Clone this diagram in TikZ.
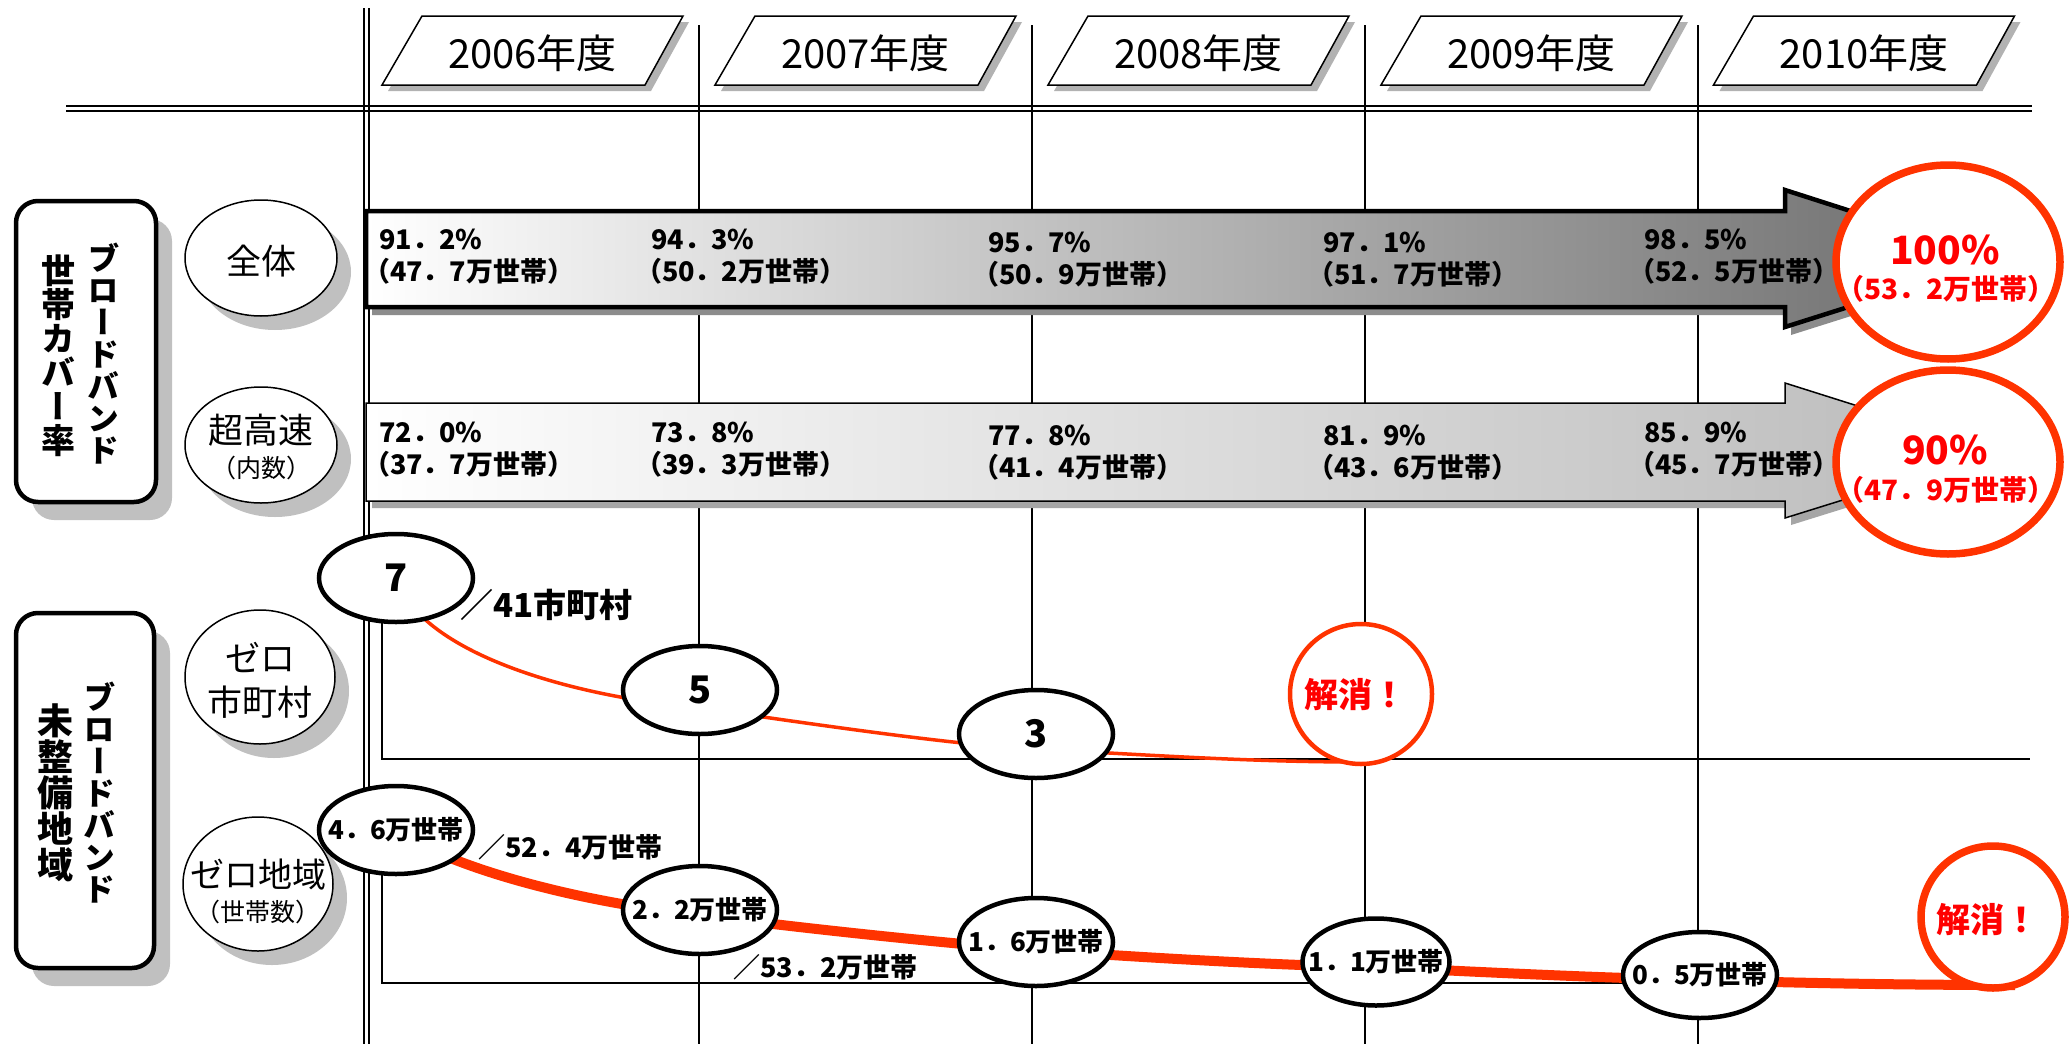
\documentclass[tikz,border=0pt]{standalone}
\usepackage{fontspec}
\setmainfont{Noto Sans CJK JP}
\newfontfamily\vjp[RawFeature=+vert]{Noto Sans CJK JP}
\usetikzlibrary{shapes.geometric}
\definecolor{rline}{RGB}{255,51,0}
\definecolor{rtext}{RGB}{255,0,0}
\definecolor{shd}{RGB}{192,192,192}
\newcommand\setfs[1]{\fontsize{#1}{#1}\selectfont\lineskiplimit=-100pt\relax}
\begin{document}
\begin{tikzpicture}[x=1pt,y=-1pt,
  colline/.style={line width=1.5},
  dbl/.style={line width=2},
  ybox/.style={draw, line width=1.5, fill=white},
  ytext/.style={font=\setfs{40}, inner sep=0},
  pct/.style={anchor=west, align=left, inner sep=0, font=\bfseries\fontsize{27}{32}\selectfont},
  lbl/.style={draw, line width=1.5, fill=white},
  lbltext/.style={inner sep=0, align=center},
  vbox/.style={draw, line width=4.5, rounded corners=22, fill=white},
  vtext/.style={align=center, inner sep=0},
  bub/.style={ellipse, draw, line width=4.5, fill=white, minimum width=154, minimum height=88, inner sep=0},
  bubtext/.style={inner sep=0, font=\bfseries\setfs{26}},
  numtext/.style={inner sep=0, font=\bfseries\setfs{38}},
  goal/.style={ellipse, draw=rline, fill=white, inner sep=0},
  redtext/.style={inner sep=0, text=rtext, align=center},
  slash/.style={anchor=west, inner sep=0, font=\bfseries\setfs{27}},
  thinred/.style={draw=rline, line width=3.5},
  thickred/.style={draw=rline, line width=10},
]
\useasboundingbox[fill=white] (0,0) rectangle (2072,1044);

% ---- grid lines ----
\foreach \x in {699,1032,1365,1698} \draw[colline] (\x,25) -- (\x,1044);
\draw[dbl] (364,8) -- (364,1044);
\draw[dbl] (369,8) -- (369,1044);
\draw[dbl] (66,106) -- (2032,106);
\draw[dbl] (66,111) -- (2032,111);
\draw[line width=2] (382,600) -- (382,759) -- (2030,759);
\draw[line width=2] (382,860) -- (382,983) -- (2015,983);

% ---- year headers ----
\foreach \cx/\yr [count=\i] in {532.5/2006,865.5/2007,1198.5/2008,1531.5/2009,1864/2010} {
  \fill[black!30] ({\cx-150.5+6},91) -- ({\cx+112.5+6},91) -- ({\cx+150.5+6},22) -- ({\cx-110.5+6},22) -- cycle;
  \draw[ybox] ({\cx-150.5},85) -- ({\cx+112.5},85) -- ({\cx+150.5},16) -- ({\cx-110.5},16) -- cycle;
  \node[ytext] (yr\i) at (\cx,53) {\yr 年度};
}

% ---- arrows ----
\fill[black!45, shift={(6,8)}] (366,211) -- (1785,211) -- (1785,190) -- (2000,259) -- (1785,327) -- (1785,307) -- (366,307) -- cycle;
\draw[line width=4.5, left color=white, right color=black!58] (366,211) -- (1785,211) -- (1785,190) -- (2000,259) -- (1785,327) -- (1785,307) -- (366,307) -- cycle;
\fill[black!35, shift={(6,7)}] (366,403) -- (1785,403) -- (1785,383) -- (2000,451) -- (1785,518) -- (1785,501) -- (366,501) -- cycle;
\draw[line width=1.5, left color=white, right color=black!27] (366,403) -- (1785,403) -- (1785,383) -- (2000,451) -- (1785,518) -- (1785,501) -- (366,501) -- cycle;

\node[pct] (a1) at (379,257) {91．2\%\\\hspace*{-.6em}（47．7万世帯）};
\node[pct] (a2) at (651,257) {94．3\%\\\hspace*{-.6em}（50．2万世帯）};
\node[pct] (a3) at (988,260) {95．7\%\\\hspace*{-.6em}（50．9万世帯）};
\node[pct] (a4) at (1323,260) {97．1\%\\\hspace*{-.6em}（51．7万世帯）};
\node[pct] (a5) at (1644,257) {98．5\%\\\hspace*{-.6em}（52．5万世帯）};
\node[pct] (h1) at (379,450) {72．0\%\\\hspace*{-.6em}（37．7万世帯）};
\node[pct] (h2) at (651,450) {73．8\%\\\hspace*{-.6em}（39．3万世帯）};
\node[pct] (h3) at (988,453) {77．8\%\\\hspace*{-.6em}（41．4万世帯）};
\node[pct] (h4) at (1323,453) {81．9\%\\\hspace*{-.6em}（43．6万世帯）};
\node[pct] (h5) at (1644,450) {85．9\%\\\hspace*{-.6em}（45．7万世帯）};

% ---- goal circles ----
\node[goal, line width=7.5, minimum width=224, minimum height=194] (c1) at (1948,262) {};
\node[goal, line width=7.5, minimum width=224, minimum height=184] (c2) at (1948,462) {};
\node[redtext, font=\bfseries\setfs{39}] (c1a) at (1945,250) {100\%};
\node[redtext, font=\bfseries\setfs{28}] (c1b) at (1946,289) {（53．2万世帯）};
\node[redtext, font=\bfseries\setfs{39}] (c2a) at (1945,450) {90\%};
\node[redtext, font=\bfseries\setfs{28}] (c2b) at (1946,490) {（47．9万世帯）};

% ---- left category boxes ----
\fill[shd, rounded corners=22] (32,219) rectangle (172,520);
\draw[vbox] (16,201) rectangle (156,502);
\node[vtext, font=\vjp\bfseries\setfs{32}] (b1r) at (103,354) {ブ\\ロ\\ー\\ド\\バ\\ン\\ド};
\node[vtext, font=\vjp\bfseries\setfs{34}] (b1l) at (58,356) {世\\帯\\カ\\バ\\ー\\率};
\fill[shd, rounded corners=22] (32,631) rectangle (170,986);
\draw[vbox] (16,613) rectangle (154,968);
\node[vtext, font=\vjp\bfseries\setfs{32}] (b2r) at (99,793) {ブ\\ロ\\ー\\ド\\バ\\ン\\ド};
\node[vtext, font=\vjp\bfseries\setfs{36}] (b2l) at (55,793) {未\\整\\備\\地\\域};

% ---- label ellipses ----
\fill[shd] (275,272) ellipse [x radius=76, y radius=58];
\draw[lbl] (261,258) ellipse [x radius=76, y radius=58];
\node[lbltext, font=\setfs{35}] (t1) at (261,261) {全体};
\fill[shd] (275,459) ellipse [x radius=76, y radius=58];
\draw[lbl] (261,445) ellipse [x radius=76, y radius=58];
\node[lbltext, font=\setfs{35}] (t2a) at (261,430) {超高速};
\node[lbltext, font=\setfs{25}] (t2b) at (261,468) {（内数）};
\fill[shd] (274,691) ellipse [x radius=75, y radius=67];
\draw[lbl] (260,677) ellipse [x radius=75, y radius=67];
\node[lbltext, font=\setfs{35}] (t3a) at (260,657) {ゼロ};
\node[lbltext, font=\setfs{35}] (t3b) at (260,702) {市町村};
\fill[shd] (272,898) ellipse [x radius=75, y radius=67];
\draw[lbl] (258,884) ellipse [x radius=75, y radius=67];
\node[lbltext, font=\setfs{34}] (t4a) at (258,875) {ゼロ地域};
\node[lbltext, font=\setfs{25}] (t4b) at (258,912) {（世帯数）};

% ---- curves ----
\coordinate (p7) at (396,578);
\coordinate (p5) at (700,690);
\coordinate (p3) at (1036,734);
\coordinate (pz) at (1361,762);
\coordinate (q46) at (396,830);
\coordinate (q22) at (700,910);
\coordinate (q16) at (1036,942);
\coordinate (q11) at (1376,962);
\coordinate (q05) at (1700,975);
\coordinate (qend) at (2015,985);
\draw[thinred] (p7) .. controls (420,650) and (560,695) .. (700,708)
  .. controls (800,722) and (950,745) .. (1036,749)
  .. controls (1150,755) and (1250,762) .. (pz);
\draw[thickred] (q46) .. controls (440,862) and (560,900) .. (700,915)
  .. controls (800,928) and (950,944) .. (1036,950)
  .. controls (1150,958) and (1290,966) .. (1376,967)
  .. controls (1480,972) and (1600,978) .. (1700,980)
  .. controls (1800,983) and (1900,985) .. (qend);

% ---- bubbles ----
\node[bub] (n7) at (p7) {};
\node[numtext] (n7t) at (p7) {7};
\node[bub] (n5) at (p5) {};
\node[numtext] (n5t) at (p5) {5};
\node[bub] (n3) at (p3) {};
\node[numtext] (n3t) at (p3) {3};
\node[bub] (m46) at (q46) {};
\node[bubtext] (m46t) at (q46) {4．6万世帯};
\node[bub] (m22) at (q22) {};
\node[bubtext] (m22t) at (q22) {2．2万世帯};
\node[bub] (m16) at (q16) {};
\node[bubtext] (m16t) at (q16) {1．6万世帯};
\node[bub, minimum width=147, minimum height=87] (m11) at (q11) {};
\node[bubtext] (m11t) at (q11) {1．1万世帯};
\node[bub, minimum height=86] (m05) at (q05) {};
\node[bubtext] (m05t) at (q05) {0．5万世帯};

\node[goal, line width=4.5, minimum width=142, minimum height=140] (z1) at (1361,694) {};
\node[redtext, font=\bfseries\setfs{34}] (z1t) at (1355,695) {解消！};
\node[goal, line width=7.5, minimum width=144, minimum height=142] (z2) at (1993,917) {};
\node[redtext, font=\bfseries\setfs{34}] (z2t) at (1987,920) {解消！};

% ---- totals ----
\node[slash, font=\bfseries\setfs{33}] (s41) at (460,605) {／41市町村};
\node[slash] (s524) at (478,847) {／52．4万世帯};
\node[slash] (s532) at (733,967) {／53．2万世帯};
\end{tikzpicture}
\end{document}
